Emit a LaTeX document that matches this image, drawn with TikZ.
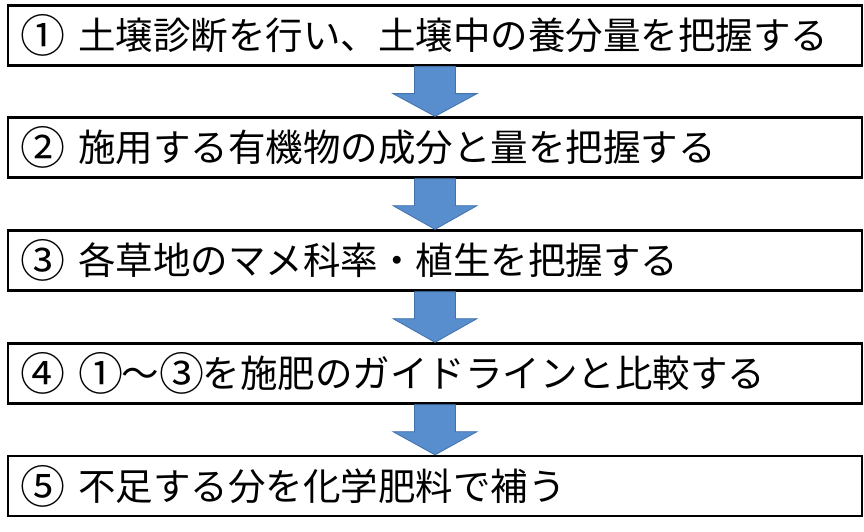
\documentclass[tikz,border=0pt]{standalone}
\usepackage{fontspec}
\newfontfamily\jpfont{Noto Sans CJK JP}
\usetikzlibrary{calc}
\definecolor{arrfill}{RGB}{88,142,206}
\definecolor{arredge}{RGB}{66,114,172}
\newcommand{\cdig}[1]{\raisebox{-0.08em}{\scalebox{1.2}{#1}}}
\tikzset{
  stepbox/.style={draw=black, line width=2.3pt, minimum width=854pt, minimum height=60pt,
    text width=830pt, inner xsep=12pt, inner ysep=0pt, align=left,
    font=\jpfont\fontsize{37.5}{40}\selectfont},
  blockarrow/.style={fill=arrfill, draw=arredge, line width=0.8pt, line join=miter}
}
\newcommand{\blockarr}[2]{%
  \draw[blockarrow] ($(#1.south)+(-20.5,0)$) -- ($(#1.south)+(-20.5,27)$) --
    ($(#1.south)+(-42,27)$) -- (#2.north) -- ($(#1.south)+(42,27)$) --
    ($(#1.south)+(20.5,27)$) -- ($(#1.south)+(20.5,0)$) -- cycle;}
\begin{document}
\begin{tikzpicture}[x=1pt,y=-1pt]
\useasboundingbox[fill=white] (0,0) rectangle (864,532);
\node[stepbox] (b1) at (435,35.5) {\cdig{①}\hspace{0.35em}土壌診断を行い、土壌中の養分量を把握する};
\node[stepbox] (b2) at (435,147.5) {\cdig{②}\hspace{0.35em}施用する有機物の成分と量を把握する};
\node[stepbox] (b3) at (435,260.5) {\cdig{③}\hspace{0.35em}各草地のマメ科率・植生を把握する};
\node[stepbox] (b4) at (435,373.5) {\cdig{④}\hspace{0.35em}\cdig{①}\hspace{-0.05em}～\hspace{0.02em}\cdig{③}\hspace{-0.05em}を施肥のガイドラインと比較する};
\node[stepbox] (b5) at (435,486) {\cdig{⑤}\hspace{0.35em}不足する分を化学肥料で補う};
\blockarr{b1}{b2}
\blockarr{b2}{b3}
\blockarr{b3}{b4}
\blockarr{b4}{b5}
\end{tikzpicture}
\end{document}
